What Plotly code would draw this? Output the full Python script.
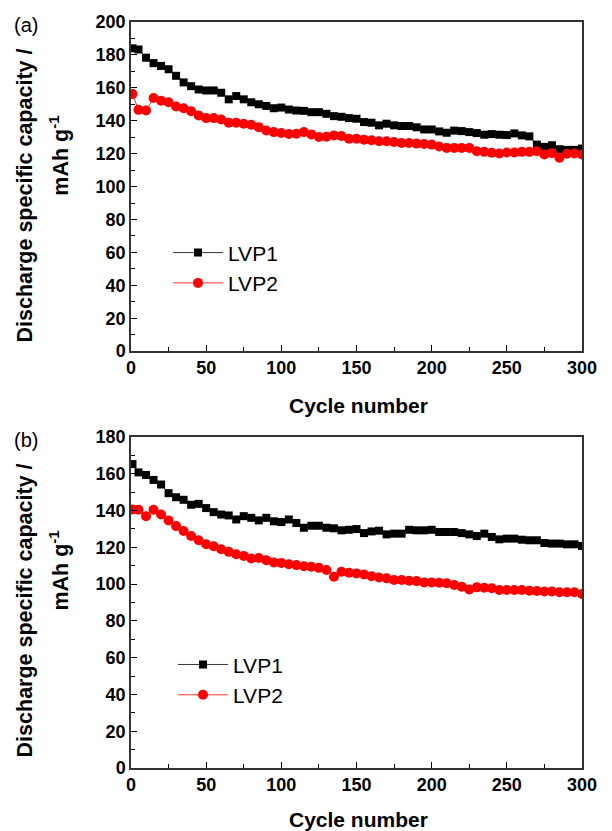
import plotly.graph_objects as go

# Cycle index of each recorded point (every 5th cycle)
cycles = [1] + list(range(5, 301, 5))

# (a) discharge capacity, mAh/g
a_lvp1 = [184, 183.3, 178.3, 175, 173.3, 171.3, 167.3, 163.3, 161, 159,
          158.4, 158.4, 157, 153, 155, 153, 151.2, 150, 149, 147.6,
          148, 146.8, 146.2, 146, 145.2, 145.2, 144.2, 142.8, 142.4, 141.6,
          141.2, 139.2, 138.8, 137.2, 138.2, 137.2, 136.8, 136.8, 136, 134.7,
          134.7, 133.5, 132.7, 134, 133.7, 133.1, 132.5, 131.5, 131.9, 131.5,
          131.3, 132.3, 131.1, 130.5, 125.5, 124.1, 125.1, 122.7, 122.3, 122.3,
          123.1]
a_lvp2 = [156.2, 146.6, 146.2, 153.8, 152.2, 151.2, 148.6, 147.6, 145.8, 143.2,
          141.6, 141.6, 140.8, 138.8, 138.8, 138.2, 137.6, 136.1, 134.1, 133.1,
          132.5, 131.9, 132.1, 133.1, 131.7, 130.1, 130.3, 131.1, 130.7, 129.1,
          129.1, 128.5, 128.1, 127.5, 127.5, 127.1, 126.5, 126.5, 126.1, 125.9,
          125.5, 124.3, 123.5, 123.5, 123.5, 123.5, 121.5, 121.1, 120.5, 120.1,
          120.7, 120.7, 121.1, 121.1, 121.5, 119.5, 120.3, 117.5, 119.9, 120.1,
          119.5]

# (b) discharge capacity, mAh/g
b_lvp1 = [165.2, 160.7, 159.3, 156.6, 154.1, 149.4, 147.2, 145.8, 143.1, 143.6,
          141.3, 139.1, 137.8, 137.3, 135.1, 136.9, 136, 134.6, 136, 134.1,
          133.7, 135.1, 133.2, 130.6, 131.7, 131.7, 130.6, 130.3, 129.2, 129.5,
          129.9, 127.7, 128.6, 129, 127, 127.4, 127.4, 129.5, 129.2, 129.2,
          129.5, 128.3, 128.3, 128.3, 127.7, 127, 126.1, 127.4, 125.6, 124.3,
          124.7, 124.7, 124.1, 123.8, 123.8, 122.3, 122, 122, 121.6, 121.6,
          120.7]
b_lvp2 = [140.5, 140.4, 136.9, 140.4, 137.8, 134.6, 131.5, 128.8, 126.1, 123.8,
          121.6, 120.5, 118.9, 117.5, 116.2, 115.3, 113.9, 114.2, 113, 111.7,
          111.5, 110.8, 110.3, 109.7, 109.4, 108.8, 107.6, 104, 106.7, 106.1,
          105.8, 105.2, 104.3, 103.6, 103.1, 102.2, 102.2, 101.8, 101.6, 100.9,
          100.9, 100.7, 100.4, 99.5, 98.6, 97.1, 98.2, 98, 97.7, 96.8,
          96.8, 96.8, 96.8, 96.4, 96.2, 95.9, 95.9, 95.5, 95.5, 95.5,
          94.6]

series_names = ["LVP1", "LVP2"]
x_ticks = [0, 50, 100, 150, 200, 250, 300]

FONT = "Liberation Sans, Arial, sans-serif"
BLACK = "#000000"
RED = "#ff0000"

fig = go.Figure()


def add_pair(lvp1, lvp2, xa, ya, legend):
    fig.add_trace(go.Scatter(
        x=cycles, y=lvp1, name=series_names[0], mode="lines+markers",
        line=dict(color=BLACK, width=0.8),
        marker=dict(symbol="square", size=8, color=BLACK),
        xaxis=xa, yaxis=ya, legend=legend))
    fig.add_trace(go.Scatter(
        x=cycles, y=lvp2, name=series_names[1], mode="lines+markers",
        line=dict(color=RED, width=0.8),
        marker=dict(symbol="circle", size=10, color=RED),
        xaxis=xa, yaxis=ya, legend=legend))


add_pair(a_lvp1, a_lvp2, "x", "y", "legend")
add_pair(b_lvp1, b_lvp2, "x2", "y2", "legend2")

tickfont = dict(family=FONT, size=18, color=BLACK, weight="bold")

xcommon = dict(range=[0, 300], tickvals=x_ticks, ticks="inside", ticklen=6,
               tickwidth=1.2, tickcolor=BLACK, showline=True, linecolor="#333333",
               linewidth=1.5, mirror=True, showgrid=False, zeroline=False,
               tickfont=tickfont,
               minor=dict(dtick=25, ticks="inside", ticklen=4, tickcolor=BLACK))
ycommon = dict(dtick=20, ticks="inside", ticklen=6, tickwidth=1.2,
               tickcolor=BLACK, showline=True, linecolor="#333333",
               linewidth=1.5, mirror=True, showgrid=False, zeroline=False,
               tickfont=tickfont,
               minor=dict(dtick=10, ticks="inside", ticklen=4, tickcolor=BLACK))

# Pixel layout: 612 x 831 page, plot areas x 131-582
top_a, bot_a, top_b, bot_b = 20, 350, 436, 768
mt, mb = 20, 831 - 768
H = 831 - mt - mb


def py(p):
    return 1 - (p - mt) / H


def px_x(p):
    return (p - 131) / 451


legend_font = dict(family=FONT, size=21, color=BLACK)

fig.update_layout(
    width=612, height=831,
    margin=dict(l=131, r=30, t=mt, b=mb),
    paper_bgcolor="white", plot_bgcolor="white",
    font=dict(family=FONT, color=BLACK),
    showlegend=True,
    xaxis=dict(xcommon, domain=[0, 1], anchor="y"),
    yaxis=dict(ycommon, range=[0, 200], domain=[py(bot_a), py(top_a)], anchor="x"),
    xaxis2=dict(xcommon, domain=[0, 1], anchor="y2"),
    yaxis2=dict(ycommon, range=[0, 180], domain=[py(bot_b), py(top_b)], anchor="x2"),
    legend=dict(x=px_x(168), y=py(231), xanchor="left", yanchor="top",
                font=legend_font, bgcolor="rgba(0,0,0,0)",
                itemwidth=50, tracegroupgap=0),
    legend2=dict(x=px_x(173), y=py(644), xanchor="left", yanchor="top",
                 font=legend_font, bgcolor="rgba(0,0,0,0)",
                 itemwidth=50, tracegroupgap=0),
)


def ann(text, x, y, size, bold=True, angle=0, xanchor="center"):
    fig.add_annotation(
        text=text, xref="paper", yref="paper", x=x, y=y,
        xanchor=xanchor, yanchor="middle", showarrow=False, textangle=angle,
        font=dict(family=FONT, size=size, color=BLACK,
                  weight="bold" if bold else "normal"))


for top, label, xlab_y in [(top_a, "(a)", 405), (top_b, "(b)", 820)]:
    ann(label, px_x(12), py(top + 3), 20, bold=False, xanchor="left")
    ann("Cycle number", px_x(358), py(xlab_y), 21)
    ann("Discharge specific capacity /", px_x(25), py(top + 174), 21.5, angle=-90)
    ann("mAh g<sup>-1</sup>", px_x(59), py(top + 134), 21.5, angle=-90)

fig.write_html("out.html")
